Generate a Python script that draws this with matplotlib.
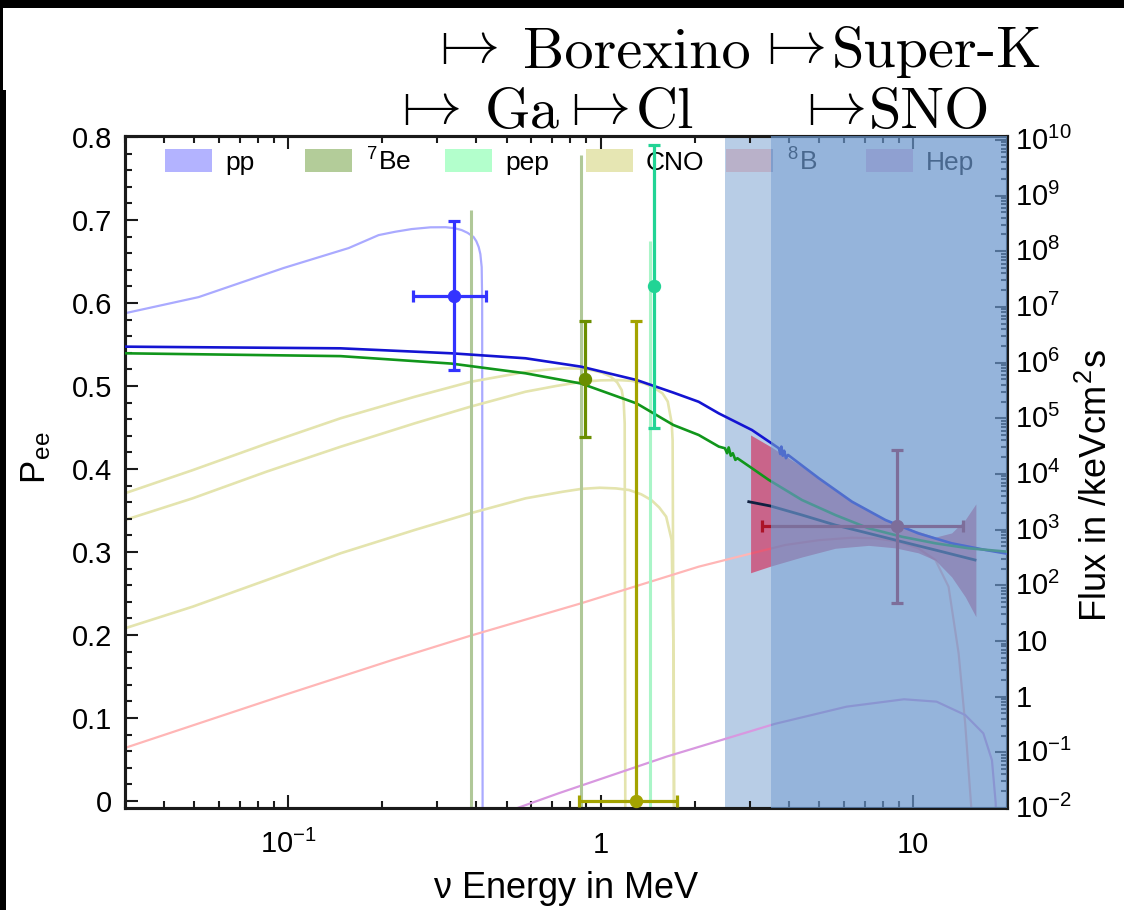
import matplotlib
matplotlib.use("Agg")
import matplotlib.pyplot as plt
from matplotlib.patches import Rectangle
from matplotlib.lines import Line2D
from matplotlib.ticker import (FixedLocator, FixedFormatter, LogLocator,
                               NullFormatter, MultipleLocator)
from matplotlib.transforms import ScaledTranslation

plt.rcParams["font.family"] = ["Liberation Sans", "DejaVu Sans"]
plt.rcParams["mathtext.fontset"] = "cm"

# ---------------------------------------------------------------------------
# Survival probability P_ee versus neutrino energy (MeV)
# ---------------------------------------------------------------------------
pee_a_E = [0.03, 0.147, 0.333, 0.575, 0.866, 1.304, 1.71, 2.06, 2.39, 3.05,
           3.72, 3.76, 3.79, 3.83, 3.87, 3.92, 3.98, 4.99, 6.38, 8.16, 10.4,
           13.3, 17.1, 20.0]
pee_a_P = [0.5474, 0.5454, 0.5394, 0.5334, 0.5233, 0.5072, 0.492, 0.481,
           0.467, 0.447, 0.425, 0.418, 0.427, 0.416, 0.422, 0.413, 0.417,
           0.389, 0.3606, 0.3386, 0.3225, 0.3105, 0.3024, 0.298]

pee_b_E = [0.03, 0.147, 0.333, 0.575, 0.866, 1.304, 1.71, 2.06, 2.39, 2.50,
           2.54, 2.57, 2.61, 2.65, 2.70, 2.74, 3.05, 3.45, 4.41, 5.64, 7.21,
           9.22, 11.8, 15.1, 20.0]
pee_b_P = [0.5394, 0.536, 0.527, 0.5153, 0.503, 0.479, 0.453, 0.441, 0.427,
           0.425, 0.419, 0.426, 0.416, 0.419, 0.411, 0.413, 0.401, 0.387,
           0.3627, 0.3446, 0.3286, 0.3184, 0.3105, 0.3045, 0.3004]

# fit to the 8B spectrum and its uncertainty band
fit_E = [2.98, 3.50, 4.41, 5.64, 7.21, 9.22, 11.8, 15.8]
fit_P = [0.3606, 0.3554, 0.3446, 0.3325, 0.3225, 0.3124, 0.3024, 0.2904]

band_E = [3.02, 3.50, 4.41, 5.64, 7.21, 8.78, 10.4, 11.8, 13.3, 14.7, 15.9]
band_P_hi = [0.441, 0.427, 0.403, 0.375, 0.349, 0.333, 0.325, 0.318, 0.323,
             0.339, 0.358]
band_P_lo = [0.275, 0.283, 0.294, 0.3045, 0.308, 0.305, 0.299, 0.290, 0.270,
             0.246, 0.222]

# measurements: pp, 7Be, Cl, pep, 8B
meas_E = [0.34, 0.89, 1.30, 1.485, 8.89]
meas_E_lo = [0.25, 0.89, 0.85, 1.485, 3.28]
meas_E_hi = [0.43, 0.89, 1.75, 1.485, 14.45]
meas_P = [0.609, 0.508, 0.0, 0.62, 0.331]
meas_P_lo = [0.519, 0.438, 0.0, 0.45, 0.239]
meas_P_hi = [0.699, 0.578, 0.578, 0.79, 0.423]
meas_colors = ["#3333ff", "#6b8e00", "#a3a300", "#22d495", "#ac1428"]

# ---------------------------------------------------------------------------
# Solar neutrino fluxes (/keV cm^2 s)
# ---------------------------------------------------------------------------
pp_E = [0.03, 0.0516, 0.0966, 0.156, 0.1946, 0.22, 0.248, 0.285, 0.319,
        0.34, 0.359, 0.375, 0.392, 0.40, 0.407, 0.412, 0.416, 0.4175, 0.419]
pp_flux = [7.7e6, 1.5e7, 5.0e7, 1.14e8, 1.95e8, 2.24e8, 2.5e8, 2.69e8, 2.7e8,
           2.6e8, 2.4e8, 2.14e8, 1.8e8, 1.51e8, 1.19e8, 8.9e7, 5.2e7, 1.3e7,
           1e-3]

n13_E = [0.03, 0.0494, 0.0852, 0.147, 0.2537, 0.382, 0.575, 0.66, 0.756,
         0.85, 0.939, 1.01, 1.077, 1.13, 1.168, 1.185, 1.194, 1.20]
n13_flux = [4.5e3, 1.17e4, 3.5e4, 1.0e5, 2.43e5, 4.5e5, 6.8e5, 7.4e5, 7.9e5,
            7.8e5, 7.3e5, 6.6e5, 5.6e5, 4.4e5, 3.2e5, 2.0e5, 8.1e4, 1e-3]

o15_E = [0.03, 0.0494, 0.0852, 0.147, 0.2537, 0.382, 0.575, 0.72, 0.866,
         1.0, 1.137, 1.26, 1.377, 1.48, 1.578, 1.64, 1.689, 1.70, 1.72]
o15_flux = [1.49e3, 3.65e3, 1.1e4, 3.08e4, 8.1e4, 1.61e5, 3.0e5, 3.8e5,
            4.5e5, 4.8e5, 4.85e5, 4.7e5, 4.23e5, 3.55e5, 2.8e5, 2.0e5, 8.1e4,
            4.0e4, 1e-3]

f17_E = [0.03, 0.0494, 0.0852, 0.147, 0.2537, 0.382, 0.575, 0.756, 0.87,
         0.993, 1.12, 1.234, 1.35, 1.453, 1.54, 1.621, 1.688, 1.713, 1.72]
f17_flux = [16.9, 41.3, 124, 376, 984, 1.96e3, 3.65e3, 4.79e3, 5.4e3, 5.65e3,
            5.5e3, 5.14e3, 4.3e3, 3.4e3, 2.5e3, 1.71e3, 650, 4.56, 1e-3]

b8_E = [0.03, 0.0971, 0.2155, 0.3806, 0.866, 2.06, 3.05, 3.90, 4.99, 6.38,
        7.58, 9.00, 10.4, 11.8, 13.0, 14.0, 14.7, 15.6]
b8_flux = [0.12, 1.07, 4.56, 12.3, 47.5, 216, 376, 530, 646, 716, 698, 607,
           461, 284, 94.4, 6.0, 0.32, 3.2e-3]

hep_E = [0.511, 0.734, 1.627, 3.61, 6.13, 9.36, 11.9, 14.7, 16.8, 17.9, 18.4,
         18.5]
hep_flux = [8.9e-3, 0.0184, 0.0838, 0.324, 0.661, 0.897, 0.813, 0.468, 0.219,
            0.0724, 0.0123, 1e-3]

be7_lines_E = [0.384, 0.862]
be7_lines_flux = [5.5e8, 5.4e9]
pep_line_E = [1.44]
pep_line_flux = [1.55e8]

# detector thresholds (MeV)
superk_threshold = 2.5
sno_threshold = 3.5

legend_labels = ["pp", r"$^{\mathregular{7}}$Be", "pep", "CNO",
                 r"$^{\mathregular{8}}$B", "Hep"]
legend_colors = ["#b3b3ff", "#b3cc99", "#b3ffcc", "#e6e6b3", "#b9b1c9",
                 "#e8bbdf"]

x_ticks = [0.1, 1, 10]
x_tick_labels = [r"$\mathregular{10^{-1}}$", "1", "10"]
p_ticks = [0.0, 0.1, 0.2, 0.3, 0.4, 0.5, 0.6, 0.7, 0.8]
p_tick_labels = ["0", "0.1", "0.2", "0.3", "0.4", "0.5", "0.6", "0.7", "0.8"]
flux_exponents = list(range(-2, 11))
flux_tick_labels = ["1" if k == 0 else "10" if k == 1 else
                    r"$\mathregular{10^{%d}}$" % k for k in flux_exponents]

experiments_row1 = ["Borexino", "Super-K"]
experiments_row2 = ["Ga", "Cl", "SNO"]

# ---------------------------------------------------------------------------
W, H = 1124, 910
fig = plt.figure(figsize=(W / 100, H / 100), dpi=100)
fig.patch.set_facecolor("white")

ax_flux = fig.add_axes([125 / W, 102 / H, 882 / W, 672 / H])
ax_flux.set_xscale("log")
ax_flux.set_yscale("log")
ax_flux.set_xlim(0.03, 20)
ax_flux.set_ylim(1e-2, 10 ** 10.07)

ax_p = ax_flux.twinx()
ax_p.set_ylim(-0.0084, 0.8012)

# flux axis on the right, probability axis on the left
ax_flux.yaxis.tick_right()
ax_flux.yaxis.set_label_position("right")
ax_p.yaxis.tick_left()
ax_p.yaxis.set_label_position("left")

# --- lower layer: thresholds and fluxes
ax_flux.axvspan(superk_threshold, sno_threshold, color="#b8cde6", lw=0,
                zorder=0.5)
ymin_flux = ax_flux.get_ylim()[0]
ax_flux.plot(pp_E, pp_flux, color="#aaaaff", lw=1.6)
for E, F in ((n13_E, n13_flux), (o15_E, o15_flux), (f17_E, f17_flux)):
    ax_flux.plot(E, F, color="#e4e4ae", lw=1.9)
ax_flux.plot(b8_E, b8_flux, color="#ffb6b6", lw=1.6)
ax_flux.plot(hep_E, hep_flux, color="#d898e0", lw=1.6)
ax_flux.vlines(be7_lines_E, ymin_flux, be7_lines_flux, color="#b0c898", lw=2.2)
ax_flux.vlines(pep_line_E, ymin_flux, pep_line_flux, color="#aaf5c8", lw=2.2)

# legend row
for i, (lab, col) in enumerate(zip(legend_labels, legend_colors)):
    x0 = (165 + 140.2 * i - 125) / 882
    ax_flux.add_patch(Rectangle((x0, (808 - 172) / 672), 47 / 882, 23 / 672,
                                transform=ax_flux.transAxes, facecolor=col,
                                edgecolor="none", zorder=5, clip_on=False))
    ax_flux.text(x0 + 60 / 882, (808 - 170) / 672, lab,
                 transform=ax_flux.transAxes, fontsize=19, va="baseline",
                 ha="left", color="black", zorder=5)

# --- upper layer: probabilities and measurements
ax_p.fill_between(band_E, band_P_lo, band_P_hi, color=(0.84, 0.12, 0.30),
                  alpha=0.6, lw=0, zorder=3)
ax_p.plot(pee_a_E, pee_a_P, color="#1414d2", lw=1.9, zorder=4)
ax_p.plot(pee_b_E, pee_b_P, color="#11961b", lw=1.9, zorder=4)
ax_p.plot(fit_E, fit_P, color="#102040", lw=2.0, zorder=4.5)

for E, lo, hi, P, plo, phi, c in zip(meas_E, meas_E_lo, meas_E_hi, meas_P,
                                     meas_P_lo, meas_P_hi, meas_colors):
    xerr = [[E - lo], [hi - E]] if hi > lo else None
    ax_p.errorbar([E], [P], xerr=xerr, yerr=[[P - plo], [phi - P]], fmt="o",
                  ms=8.6, color=c, mec=c, elinewidth=2.3, capsize=4.6,
                  capthick=2.3, zorder=6, clip_on=False)

ax_p.axvspan(sno_threshold, ax_flux.get_xlim()[1], color="#6995cc", alpha=0.7,
             lw=0, zorder=10)

# --- axes styling
for ax in (ax_flux, ax_p):
    for sp in ax.spines.values():
        sp.set_linewidth(2.2)
        sp.set_color("#1a1a1a")

ax_flux.xaxis.set_major_locator(FixedLocator(x_ticks))
ax_flux.xaxis.set_major_formatter(FixedFormatter(x_tick_labels))
ax_flux.xaxis.set_minor_locator(LogLocator(base=10, subs=range(2, 10),
                                           numticks=50))
ax_flux.xaxis.set_minor_formatter(NullFormatter())
ax_flux.tick_params(axis="x", which="both", direction="in", top=True,
                    bottom=True, color="#1a1a1a", width=1.5, labelsize=21,
                    pad=32.4)
ax_flux.tick_params(axis="x", which="major", length=9.7)
ax_flux.tick_params(axis="x", which="minor", length=5)

ax_flux.yaxis.set_major_locator(FixedLocator([10.0 ** k for k in flux_exponents]))
ax_flux.yaxis.set_major_formatter(FixedFormatter(flux_tick_labels))
ax_flux.yaxis.set_minor_locator(LogLocator(base=10, subs=range(2, 10),
                                           numticks=50))
ax_flux.yaxis.set_minor_formatter(NullFormatter())
ax_flux.tick_params(axis="y", which="both", direction="in", left=False,
                    right=True, labelleft=False, labelright=True,
                    color="#1a1a1a", width=1.5, labelsize=21, pad=6)
ax_flux.tick_params(axis="y", which="major", length=8.6)
ax_flux.tick_params(axis="y", which="minor", length=4.3)

ax_p.yaxis.set_major_locator(FixedLocator(p_ticks))
ax_p.yaxis.set_major_formatter(FixedFormatter(p_tick_labels))
ax_p.yaxis.set_minor_locator(MultipleLocator(0.02))
ax_p.tick_params(axis="y", which="both", direction="in", left=True,
                 right=False, labelleft=True, labelright=False,
                 color="#1a1a1a", width=1.5, labelsize=21, pad=9.5)
ax_p.tick_params(axis="y", which="major", length=9.7)
ax_p.tick_params(axis="y", which="minor", length=5)

# baselines of the tick labels
for lab in ax_flux.get_xticklabels():
    lab.set_va("baseline")
shift = ScaledTranslation(0, -0.10, fig.dpi_scale_trans)
for lab in ax_flux.get_yticklabels():
    lab.set_va("baseline")
    lab.set_transform(lab.get_transform() + shift)

ax_flux.set_xlabel(r"$\mathregular{\nu}$ Energy in MeV", fontsize=26,
                   va="baseline")
ax_flux.xaxis.set_label_coords(0.5, (808 - 898) / 672)
ax_p.set_ylabel(r"P$_{\mathregular{ee}}$", fontsize=25, va="center",
                ha="center")
ax_p.yaxis.set_label_coords((36 - 125) / 882, (808 - 458) / 672)
ax_flux.set_ylabel(r"Flux in /keVcm$^{\mathregular{2}}$s", fontsize=26,
                   va="center", ha="center")
ax_flux.yaxis.set_label_coords((1097 - 125) / 882, (808 - 485) / 672)

# experiment labels above the frame: "maps-to" arrow (bar + arrow) and name
# layout entries: bar x, name x, baseline y (pixels from the top-left corner)
row1_layout = [(445, 523, 67), (772, 832, 67)]
row2_layout = [(407, 485, 128), (576, 636, 128), (812, 869, 128)]
arrow_pt = 42.5
arrow_em = arrow_pt * 100 / 72
for names, layout in ((experiments_row1, row1_layout),
                      (experiments_row2, row2_layout)):
    for name, (bar_px, word_px, base_py) in zip(names, layout):
        # the relation symbol carries 0.2 em of space on its left
        fig.text((bar_px - 0.255 * arrow_em) / W, 1 - (base_py - 4) / H,
                 r"$\rightarrow$", fontsize=arrow_pt, va="baseline",
                 ha="left", color="black")
        fig.add_artist(Line2D([bar_px / W, bar_px / W],
                              [1 - (base_py - 3) / H, 1 - (base_py - 34) / H],
                              transform=fig.transFigure, color="black",
                              lw=1.7, solid_capstyle="butt"))
        fig.text(word_px / W, 1 - base_py / H, name, fontfamily="cmr10",
                 fontsize=42, va="baseline", ha="left", color="black")

# dark page border at the top and left
fig.add_artist(Rectangle((0, 1 - 8 / H), 1, 8 / H, transform=fig.transFigure,
                         facecolor="black", edgecolor="none", zorder=20))
fig.add_artist(Rectangle((0, 0), 3 / W, 1, transform=fig.transFigure,
                         facecolor="black", edgecolor="none", zorder=20))
fig.add_artist(Rectangle((0, 0), 6 / W, (H - 90) / H,
                         transform=fig.transFigure, facecolor="black",
                         edgecolor="none", zorder=20))

fig.savefig("out.png", dpi=100, facecolor="white")
